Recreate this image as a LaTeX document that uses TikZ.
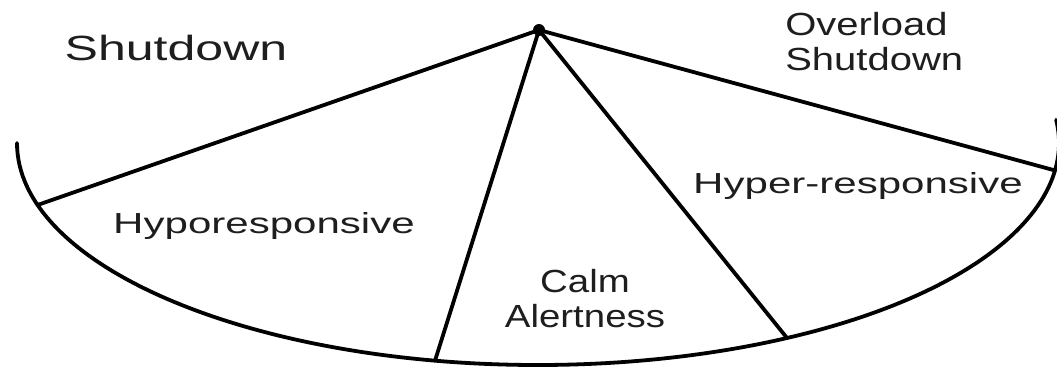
\documentclass[tikz,border=0pt]{standalone}
\usepackage{fontspec}
\setmainfont{Liberation Sans}
\usetikzlibrary{calc}
\definecolor{ink}{HTML}{1E1E1E}

\begin{document}
\begin{tikzpicture}[
  x=1pt,y=1pt,
  zonetext/.style={inner sep=0pt,text=ink},
  edge/.style={line width=3.8pt,line cap=round,line join=round}
]
\useasboundingbox (0,0) rectangle (1057,-368);
\clip (0,0) rectangle (1057,-368);
% fan geometry
\coordinate (C) at (538,-143);
\coordinate (A) at (539,-30);
\coordinate (P1) at ($(C)+(196.2:521 and 222)$);
\coordinate (P2) at ($(C)+(258.6:521 and 222)$);
\coordinate (P3) at ($(C)+(298.55:521 and 222)$);
\coordinate (P4) at ($(C)+(352.9:521 and 222)$);
\draw[edge] ($(C)+(180:521 and 222)$) arc[start angle=180,end angle=366,x radius=521,y radius=222];
\draw[edge] (P1)--(A)--(P4);
\draw[edge] (P2)--(A)--(P3);
\fill (A) circle[radius=6];
% labels
\node[zonetext,anchor=base,font=\fontsize{35}{42}\selectfont,xscale=1.43] (shut) at (176,-60) {Shutdown};
\node[zonetext,anchor=base west,align=left,font=\fontsize{32}{35}\selectfont,xscale=1.25] (over) at (785,-70) {Overload\\Shutdown};
\node[zonetext,anchor=base,font=\fontsize{29}{35}\selectfont,xscale=1.45] (hyper) at (858,-193) {Hyper-responsive};
\node[zonetext,anchor=base,font=\fontsize{29}{35}\selectfont,xscale=1.45] (hypo) at (264,-233) {Hyporesponsive};
\node[zonetext,anchor=base,align=center,font=\fontsize{32}{35}\selectfont,xscale=1.2] (calm) at (585,-327) {Calm\\Alertness};
\end{tikzpicture}
\end{document}
